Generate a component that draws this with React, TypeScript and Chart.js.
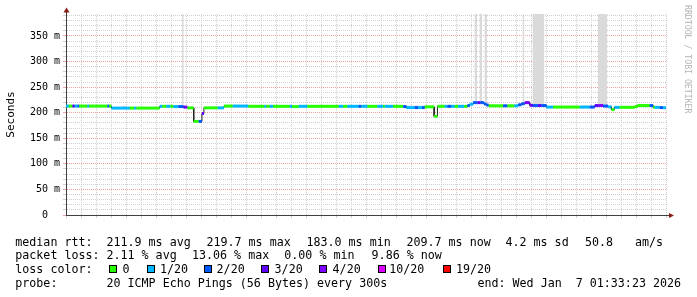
import React, { useEffect, useRef } from 'react';
import { Chart, registerables } from 'chart.js';

Chart.register(...registerables);

// ---------- DATA ----------
// time axis: hours since 28 Dec 00:00
const timeMin = 1.55; // 28 Dec 01:33
const timeMax = 241.55; // 07 Jan 01:33
const dayLabels = ['28 Dec', '29 Dec', '30 Dec', '31 Dec', '01 Jan', '02 Jan', '03 Jan', '04 Jan', '05 Jan', '06 Jan'];
const yMax = 393;

// median rtt runs (start hour, ms, loss class index)
const runStart = [
  1.55, 2.64, 4.12, 4.8, 5.32, 6.12, 6.8, 10.12, 10.8, 18.12, 18.8, 19.72, 27.04, 28.8, 29.72,
  39.04, 40.12, 41.72, 43.32, 44.52, 46.52, 48.52, 49.52, 50.12, 52.64, 54.64, 55.92, 56.72, 62.24,
  64.72, 68.24, 74.52, 80.92, 81.72, 83.04, 84.4, 91.04, 92.0, 94.64, 98.12, 110.64, 112.4, 114.12,
  118.64, 119.72, 122.12, 126.12, 128.4, 129.04, 132.4, 136.4, 137.72, 141.04, 142.4, 144.0, 145.04,
  148.8, 150.12, 153.04, 154.12, 155.72, 157.04, 158.4, 160.8, 162.12, 163.04, 164.4, 166.12, 167.32,
  168.72, 169.72, 170.64, 176.4, 178.12, 180.92, 182.4, 183.72, 185.04, 187.04, 188.4, 190.4, 191.72,
  193.72, 196.4, 207.04, 211.04, 213.04, 214.64, 216.4, 218.4, 219.72, 220.92, 223.04, 229.04, 230.12,
  235.04, 236.4, 237.04, 239.04, 240.4,
];
const runMedian = [
  213, 213, 213, 213, 213, 213, 213, 213, 213, 213, 213, 209, 209, 209, 209,
  212.5, 212.5, 212.5, 212.5, 212, 212, 211, 211, 209.5, 183, 183, 198.5, 209.5, 209.5,
  213, 213, 212.5, 212.5, 212.5, 212.5, 212.5, 212.5, 212, 212.5, 212.5, 212.5, 212.5, 212.5,
  212.5, 212.5, 212.5, 212.5, 212.5, 212.5, 212.5, 212, 210, 210, 210, 210, 211.5,
  193, 212.5, 212.5, 212.5, 212.5, 212.5, 212.5, 212.5, 214, 216.5, 219.7, 219.7, 219.7,
  217, 215, 213.5, 213.5, 213.5, 213.5, 215.5, 217.5, 219.7, 214.5, 214, 214, 214,
  211, 211, 211, 211, 214, 214, 213, 211.5, 206, 210.5, 210.5, 212, 214,
  214, 210.5, 210.5, 210, 209.7,
];
const runLoss = [
  1, 0, 3, 2, 1, 2, 0, 1, 0, 2, 0, 1, 0, 1, 0,
  1, 0, 1, 0, 1, 2, 3, 4, 0, 0, 2, 3, 0, 1,
  0, 1, 0, 1, 0, 1, 0, 1, 0, 1, 0, 1, 0, 1,
  2, 1, 0, 1, 0, 1, 0, 2, 1, 2, 1, 2, 0,
  0, 0, 1, 2, 1, 0, 1, 0, 2, 1, 2, 3, 2,
  2, 2, 0, 2, 0, 1, 2, 2, 4, 3, 2, 3, 2,
  1, 0, 1, 2, 3, 4, 2, 1, 0, 1, 0, 0, 0,
  2, 0, 1, 2, 1,
];

// smoke (ping spread) patches
const smokeStart = [47.84, 164.92, 166.92, 168.92, 184.12, 188.12, 214.24, 24.1, 40.9, 70.9, 136.9, 207.8];
const smokeEnd = [48.64, 166.0, 168.0, 170.0, 184.92, 192.92, 218.12, 26.1, 42.9, 74.5, 145.8, 213.8];
const smokeLow = [211, 217, 217, 215, 216, 213, 212, 209, 211, 211, 208, 209];
const smokeHigh = [420, 420, 420, 420, 420, 420, 420, 214, 215, 215, 214.5, 214];

const lossColors = ['#26ff00', '#00b8ff', '#0059ff', '#5e00ff', '#7e00ff', '#dd00ff', '#ff0000'];
const lossLabels = ['0', '1/20', '2/20', '3/20', '4/20', '10/20', '19/20'];

const medianStats = ['211.9 ms avg', '219.7 ms max', '183.0 ms min', '209.7 ms now', '4.2 ms sd', '50.8', 'am/s'];
const lossStats = ['2.11 % avg', '13.06 % max', '0.00 % min', '9.86 % now'];
const probeText = '20 ICMP Echo Pings (56 Bytes) every 300s';
const endText = 'end: Wed Jan  7 01:33:23 2026';

// ---------- LAYOUT / STYLE ----------
const MONO = "'DejaVu Sans Mono', monospace";
const MAJOR = '#f4a0a0';
const MINOR = '#cfcfcf';
const AXIS = '#404040';
const ARROW = '#8b1a1a';
const medianX = [106.5, 206.5, 306.5, 406.5, 505.5, 585, 635];
const lossX = [106.5, 192, 284.3, 371.6];
const boxX = [108.5, 146.5, 203.5, 261, 319, 378, 442.5];
const boxLabelX = [122.5, 160, 216.6, 274.6, 332.6, 389.3, 456];
const rowTop = [234.5, 248, 262, 275.8];

const arrowPlugin = {
  id: 'rrdArrows',
  afterDraw(chart: any) {
    const { ctx, chartArea } = chart;
    const { left, right, top, bottom } = chartArea;
    const ax = Math.round(left) + 0.5;
    const ay = Math.round(bottom) + 0.5;
    ctx.save();
    ctx.strokeStyle = AXIS;
    ctx.lineWidth = 1;
    ctx.beginPath();
    ctx.moveTo(ax, top);
    ctx.lineTo(ax, top - 4);
    ctx.moveTo(right, ay);
    ctx.lineTo(right + 4, ay);
    ctx.stroke();
    ctx.fillStyle = ARROW;
    ctx.beginPath();
    ctx.moveTo(ax, top - 6.5);
    ctx.lineTo(ax - 3, top - 1.5);
    ctx.lineTo(ax + 3, top - 1.5);
    ctx.closePath();
    ctx.fill();
    ctx.beginPath();
    ctx.moveTo(right + 8, ay);
    ctx.lineTo(right + 3, ay - 2.5);
    ctx.lineTo(right + 3, ay + 2.5);
    ctx.closePath();
    ctx.fill();
    ctx.restore();
  },
};

export default function App() {
  const ref = useRef<HTMLCanvasElement | null>(null);

  useEffect(() => {
    if (!ref.current) return;
    const linePts: { x: number; y: number }[] = [];
    runStart.forEach((s, i) => {
      const e = i + 1 < runStart.length ? runStart[i + 1] : timeMax;
      linePts.push({ x: s, y: runMedian[i] });
      linePts.push({ x: e, y: runMedian[i] });
    });

    const smokeSets = smokeStart.map((s, i) => ({
      type: 'line' as const,
      data: [
        { x: s, y: smokeHigh[i] },
        { x: smokeEnd[i], y: smokeHigh[i] },
      ],
      borderWidth: 0,
      pointRadius: 0,
      backgroundColor: i < 7 ? '#dadada' : '#e6e6e6',
      fill: { value: smokeLow[i] },
      order: 3,
    }));

    const chart = new Chart(ref.current, {
      type: 'line',
      data: {
        datasets: [
          {
            data: linePts,
            borderWidth: 3,
            borderCapStyle: 'butt',
            borderColor: lossColors[0],
            pointRadius: 0,
            tension: 0,
            fill: false,
            order: 1,
            segment: {
              borderColor: (c: any) =>
                c.p0DataIndex % 2 === 0 ? lossColors[runLoss[c.p0DataIndex >> 1]] : 'rgba(0,0,0,0)',
            },
          },
          {
            data: linePts,
            borderWidth: 1,
            borderColor: '#202020',
            pointRadius: 0,
            tension: 0,
            fill: false,
            order: 2,
          },
          ...smokeSets,
        ] as any,
      },
      options: {
        responsive: false,
        animation: false,
        devicePixelRatio: 1,
        layout: { padding: { top: 14, right: 31, left: 0, bottom: 0 } },
        plugins: { legend: { display: false }, tooltip: { enabled: false } },
        events: [],
        scales: {
          x: {
            type: 'linear',
            min: timeMin,
            max: timeMax,
            afterFit: (s: any) => {
              s.height = 82;
            },
            ticks: {
              stepSize: 6,
              autoSkip: false,
              includeBounds: false,
              maxRotation: 0,
              minRotation: 0,
              padding: -1,
              color: '#000',
              font: { family: MONO, size: 10 },
              callback: (v: any) => {
                const n = Number(v);
                if (Math.abs(n % 24 - 12) < 1e-6) return dayLabels[Math.round((n - 12) / 24)] ?? '';
                return '';
              },
            },
            grid: {
              color: (c: any) => (c.tick && Math.abs(c.tick.value % 24) < 1e-6 ? MAJOR : MINOR),
              tickLength: 3,
              lineWidth: 1,
            },
            border: { color: AXIS, dash: [1, 1] },
          },
          y: {
            type: 'linear',
            min: 0,
            max: yMax,
            afterFit: (s: any) => {
              s.width = 66;
            },
            ticks: {
              stepSize: 10,
              autoSkip: false,
              includeBounds: false,
              padding: 3,
              color: '#000',
              font: { family: MONO, size: 10 },
              callback: (v: any) => {
                const n = Number(v);
                if (n % 50 !== 0) return '';
                return n === 0 ? '0  ' : `${n} m`;
              },
            },
            grid: {
              color: (c: any) => (c.tick && c.tick.value % 50 === 0 ? MAJOR : MINOR),
              tickLength: 3,
              lineWidth: 1,
            },
            border: { color: AXIS, dash: [1, 1] },
            title: {
              display: true,
              text: 'Seconds',
              color: '#000',
              font: { family: MONO, size: 11 },
              padding: { top: 5, bottom: 0 },
            },
          },
        },
      },
      plugins: [arrowPlugin],
    } as any);
    return () => chart.destroy();
  }, []);

  const txt: React.CSSProperties = {
    position: 'absolute',
    fontFamily: MONO,
    fontSize: '11.66px',
    lineHeight: '14px',
    color: '#000',
    whiteSpace: 'pre',
  };

  return (
    <div style={{ position: 'fixed', left: 0, top: 0, width: 697, height: 297, background: '#fff', overflow: 'hidden' }}>
      <canvas ref={ref} width={697} height={297} style={{ position: 'absolute', left: 0, top: 0, width: 697, height: 297 }} />
      <div
        style={{
          position: 'absolute',
          left: 683,
          top: 5,
          writingMode: 'vertical-rl',
          fontFamily: MONO,
          fontSize: '8.2px',
          lineHeight: '9px',
          color: '#b4b4b4',
          whiteSpace: 'pre',
        }}
      >
        RRDTOOL / TOBI OETIKER
      </div>
      <div style={{ ...txt, left: 15.3, top: rowTop[0] }}>median rtt:</div>
      {medianStats.map((t, i) => (
        <div key={'m' + i} style={{ ...txt, left: medianX[i], top: rowTop[0] }}>
          {t}
        </div>
      ))}
      <div style={{ ...txt, left: 15.3, top: rowTop[1] }}>packet loss:</div>
      {lossStats.map((t, i) => (
        <div key={'l' + i} style={{ ...txt, left: lossX[i], top: rowTop[1] }}>
          {t}
        </div>
      ))}
      <div style={{ ...txt, left: 15.3, top: rowTop[2] }}>loss color:</div>
      {lossLabels.map((t, i) => (
        <React.Fragment key={'c' + i}>
          <div
            style={{
              position: 'absolute',
              left: boxX[i],
              top: rowTop[2] + 3,
              width: 6,
              height: 6,
              border: '1px solid #000',
              background: lossColors[i],
            }}
          />
          <div style={{ ...txt, left: boxLabelX[i], top: rowTop[2] }}>{t}</div>
        </React.Fragment>
      ))}
      <div style={{ ...txt, left: 15.3, top: rowTop[3] }}>probe:</div>
      <div style={{ ...txt, left: 106.5, top: rowTop[3] }}>{probeText}</div>
      <div style={{ ...txt, left: 477.5, top: rowTop[3] }}>{endText}</div>
    </div>
  );
}
